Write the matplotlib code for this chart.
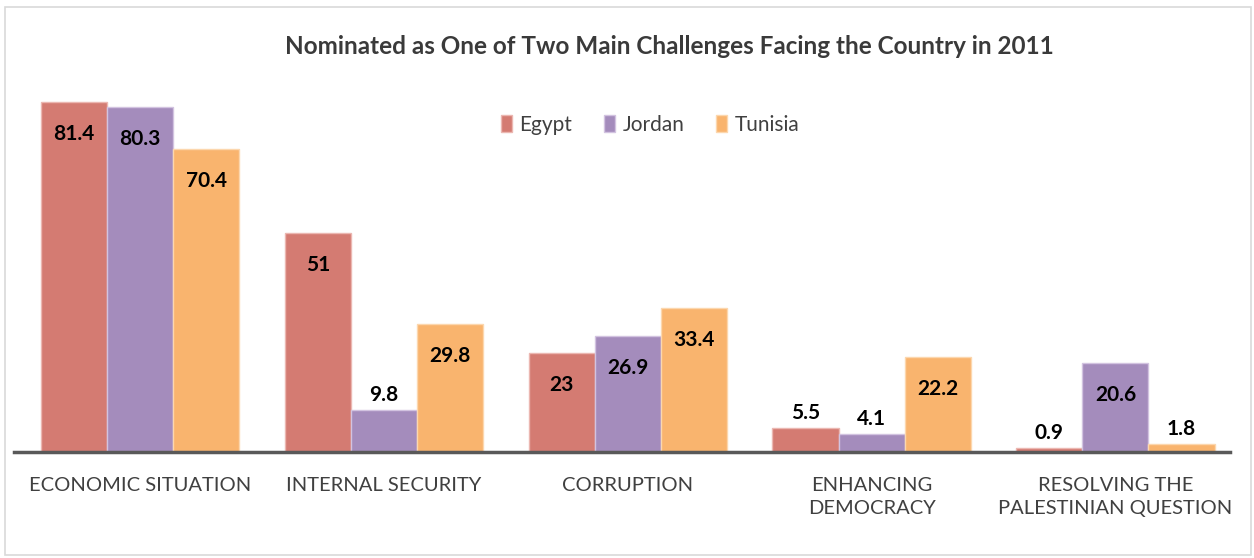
import numpy as np
import matplotlib.pyplot as plt
from matplotlib.patches import Rectangle

plt.rcParams['font.family'] = ['Lato', 'DejaVu Sans']

categories = ['ECONOMIC SITUATION', 'INTERNAL SECURITY', 'CORRUPTION',
              'ENHANCING\nDEMOCRACY', 'RESOLVING THE\nPALESTINIAN QUESTION']
countries = ['Egypt', 'Jordan', 'Tunisia']
egypt = [81.4, 51, 23, 5.5, 0.9]
jordan = [80.3, 9.8, 26.9, 4.1, 20.6]
tunisia = [70.4, 29.8, 33.4, 22.2, 1.8]

colors = ['#D47B72', '#A48CBC', '#F9B46E']
edges = ['#EBB7B1', '#D2C3E0', '#FCD7AE']

fig = plt.figure(figsize=(12.54, 5.58), dpi=100)
ax = fig.add_axes([14 / 1254, 1 - 452 / 558, 1216 / 1254, 387 / 558])

x = np.arange(len(categories))
width = 0.271
for i, (vals, name) in enumerate(zip([egypt, jordan, tunisia], countries)):
    pos = x + (i - 1) * width
    ax.bar(pos, vals, width, color=colors[i], edgecolor=edges[i],
           linewidth=1, label=name, zorder=2)
    for p, v in zip(pos, vals):
        # inside end for tall bars, above the bar for short ones
        off = -32 if v > 15 else 15
        ax.annotate(f'{v:g}', (p, v), xytext=(0, off), textcoords='offset pixels',
                    ha='center', va='center', fontsize=15,
                    fontweight='bold', color='black')

ax.set_xlim(-0.517, 4.47)
ax.set_ylim(0, 90)
for s in ['top', 'right', 'left']:
    ax.spines[s].set_visible(False)
ax.spines['bottom'].set_color('#595959')
ax.spines['bottom'].set_linewidth(2.5)
ax.spines['bottom'].set_zorder(3)
ax.set_yticks([])
ax.set_xticks(x)
ax.set_xticklabels(categories, fontsize=14.5, color='#404040',
                   linespacing=1.45)
ax.tick_params(axis='x', length=0, pad=18)

leg = ax.legend(loc='center', bbox_to_anchor=(0.523, 0.845), ncol=3,
                frameon=False, fontsize=15, handlelength=0.55,
                handleheight=0.9, handletextpad=0.35, columnspacing=1.5)
for t in leg.get_texts():
    t.set_color('#404040')

fig.text(0.534, 1 - 47 / 558, 'Nominated as One of Two Main Challenges Facing the Country in 2011',
         ha='center', va='center', fontsize=17.5, fontweight='bold',
         color='#3A3A3A')

fig.patches.append(Rectangle((5 / 1254, 3 / 558), 1246 / 1254, 548 / 558,
                             transform=fig.transFigure, fill=False,
                             edgecolor='#D9D9D9', linewidth=1.2))

fig.savefig('out.png', dpi=100)
